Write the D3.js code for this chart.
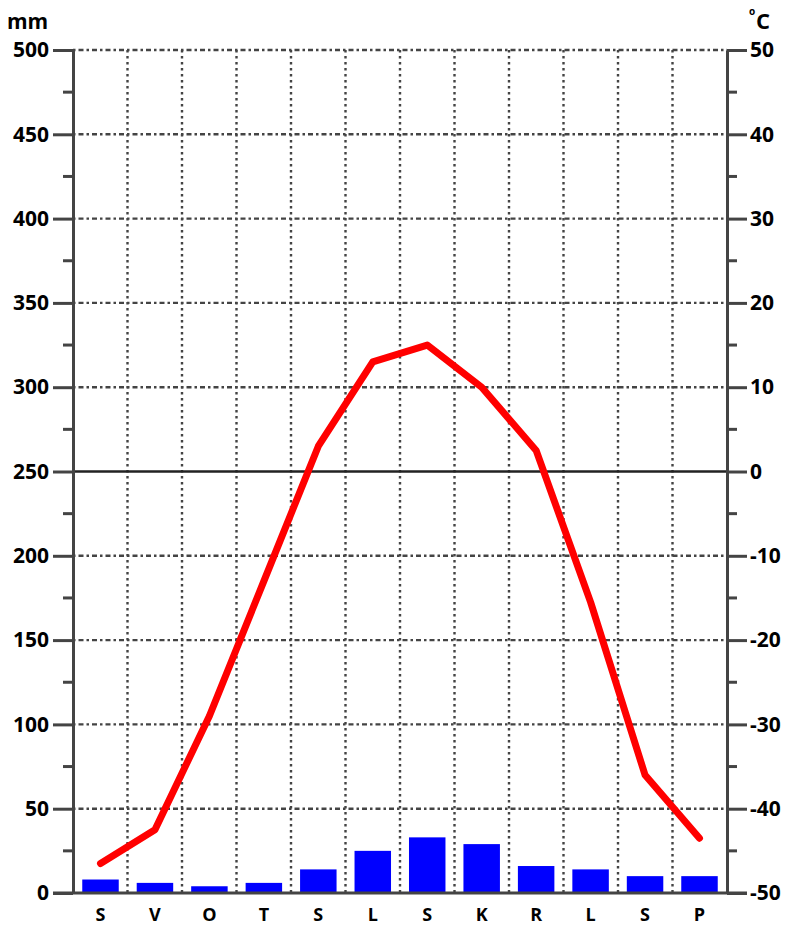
<!DOCTYPE html>
<html>
<head>
<meta charset="utf-8">
<script src="https://cdn.jsdelivr.net/npm/d3@7"></script>
<style>
  body { margin: 0; background: #fff; }
  text { font-family: "Open Sans", "DejaVu Sans", sans-serif; font-weight: 700; fill: #000; }
</style>
</head>
<body>
<svg id="chart" width="791" height="928"></svg>
<script>
// month initials (Slovenian), precipitation in mm, temperature in degrees C
const months = ["S", "V", "O", "T", "S", "L", "S", "K", "R", "L", "S", "P"];
const precipitation = [8, 6, 4, 6, 14, 25, 33, 29, 16, 14, 10, 10];
const temperature = [-46.5, -42.5, -29, -13, 3, 13, 15, 10, 2.5, -15.5, -36, -43.5];

const mmTicks = [0, 50, 100, 150, 200, 250, 300, 350, 400, 450, 500];
const cTicks = [-50, -40, -30, -20, -10, 0, 10, 20, 30, 40, 50];

const plotLeft = 73, plotRight = 727, plotTop = 50, plotBottom = 893;

const svg = d3.select("#chart");

const x = d3.scaleBand()
  .domain(d3.range(months.length))
  .range([plotLeft, plotRight])
  .paddingInner(0.33)
  .paddingOuter(0.17);

const yMm = d3.scaleLinear().domain([0, 500]).range([plotBottom, plotTop]);
const yC = d3.scaleLinear().domain([-50, 50]).range([plotBottom, plotTop]);

const bounds = d3.range(1, months.length).map(i => plotLeft + i * (plotRight - plotLeft) / months.length);

// vertical dotted grid between months
svg.append("g")
  .selectAll("line")
  .data(bounds)
  .enter()
  .append("line")
  .attr("x1", d => d).attr("x2", d => d)
  .attr("y1", plotTop).attr("y2", plotBottom)
  .attr("stroke", "#444")
  .attr("stroke-width", 2.4)
  .attr("stroke-dasharray", "2.5,3.5");

// horizontal grid, 250 mm / 0 C line solid
svg.append("g")
  .selectAll("line")
  .data(mmTicks.filter(d => d > 0))
  .enter()
  .append("line")
  .attr("x1", plotLeft).attr("x2", plotRight)
  .attr("y1", d => yMm(d)).attr("y2", d => yMm(d))
  .attr("stroke", d => d === 250 ? "#222" : "#444")
  .attr("stroke-width", d => d === 250 ? 2.5 : 2.4)
  .attr("stroke-dasharray", d => d === 250 ? null : "2.5,3,5,3");

// precipitation bars
svg.append("g")
  .selectAll("rect")
  .data(precipitation)
  .enter()
  .append("rect")
  .attr("x", (d, i) => x(i))
  .attr("width", x.bandwidth())
  .attr("y", d => yMm(d))
  .attr("height", d => yMm(0) - yMm(d))
  .attr("fill", "#0000ff");

// temperature line
const line = d3.line()
  .x((d, i) => x(i) + x.bandwidth() / 2)
  .y(d => yC(d));

svg.append("path")
  .datum(temperature)
  .attr("d", line)
  .attr("fill", "none")
  .attr("stroke", "#ff0000")
  .attr("stroke-width", 7)
  .attr("stroke-linejoin", "round")
  .attr("stroke-linecap", "round");

// left axis (mm)
const leftAxis = d3.axisLeft(yMm)
  .tickValues(mmTicks)
  .tickFormat(d => String(d))
  .tickSize(20)
  .tickPadding(4)
  .tickSizeOuter(0);

const gl = svg.append("g")
  .attr("transform", `translate(${plotLeft},0)`)
  .call(leftAxis);
gl.select(".domain").attr("stroke", "#444").attr("stroke-width", 3);
gl.selectAll(".tick line").attr("stroke", "#444").attr("stroke-width", 3);
gl.selectAll(".tick text").attr("font-size", 21).attr("font-family", null).attr("fill", "#000");

const minorMm = d3.range(25, 500, 50);
gl.append("g")
  .selectAll("line")
  .data(minorMm)
  .enter()
  .append("line")
  .attr("x1", -10).attr("x2", 0)
  .attr("y1", d => yMm(d)).attr("y2", d => yMm(d))
  .attr("stroke", "#444")
  .attr("stroke-width", 3);

// right axis (C), plain hyphen for negatives like the original
const rightAxis = d3.axisRight(yC)
  .tickValues(cTicks)
  .tickFormat(d => String(d))
  .tickSize(20)
  .tickPadding(3)
  .tickSizeOuter(0);

const gr = svg.append("g")
  .attr("transform", `translate(${plotRight},0)`)
  .call(rightAxis);
gr.select(".domain").attr("stroke", "#444").attr("stroke-width", 3);
gr.selectAll(".tick line").attr("stroke", "#444").attr("stroke-width", 3);
gr.selectAll(".tick text").attr("font-size", 21).attr("font-family", null).attr("fill", "#000");

const minorC = d3.range(-45, 50, 10);
gr.append("g")
  .selectAll("line")
  .data(minorC)
  .enter()
  .append("line")
  .attr("x1", 0).attr("x2", 10)
  .attr("y1", d => yC(d)).attr("y2", d => yC(d))
  .attr("stroke", "#444")
  .attr("stroke-width", 3);

// bottom baseline
svg.append("line")
  .attr("x1", plotLeft - 20).attr("x2", plotRight + 20)
  .attr("y1", plotBottom).attr("y2", plotBottom)
  .attr("stroke", "#444")
  .attr("stroke-width", 3);

// month labels
svg.append("g")
  .selectAll("text")
  .data(months)
  .enter()
  .append("text")
  .attr("x", (d, i) => x(i) + x.bandwidth() / 2)
  .attr("y", 921)
  .attr("text-anchor", "middle")
  .attr("font-size", 18)
  .text(d => d);

// unit labels
svg.append("text")
  .attr("x", 7).attr("y", 29)
  .attr("font-size", 21)
  .text("mm");

svg.append("text")
  .attr("x", 756).attr("y", 29)
  .attr("font-size", 22)
  .attr("font-weight", 600)
  .text("C");
svg.append("text")
  .attr("x", 749).attr("y", 15)
  .attr("font-size", 10)
  .attr("font-weight", 400)
  .text("o");
</script>
</body>
</html>
